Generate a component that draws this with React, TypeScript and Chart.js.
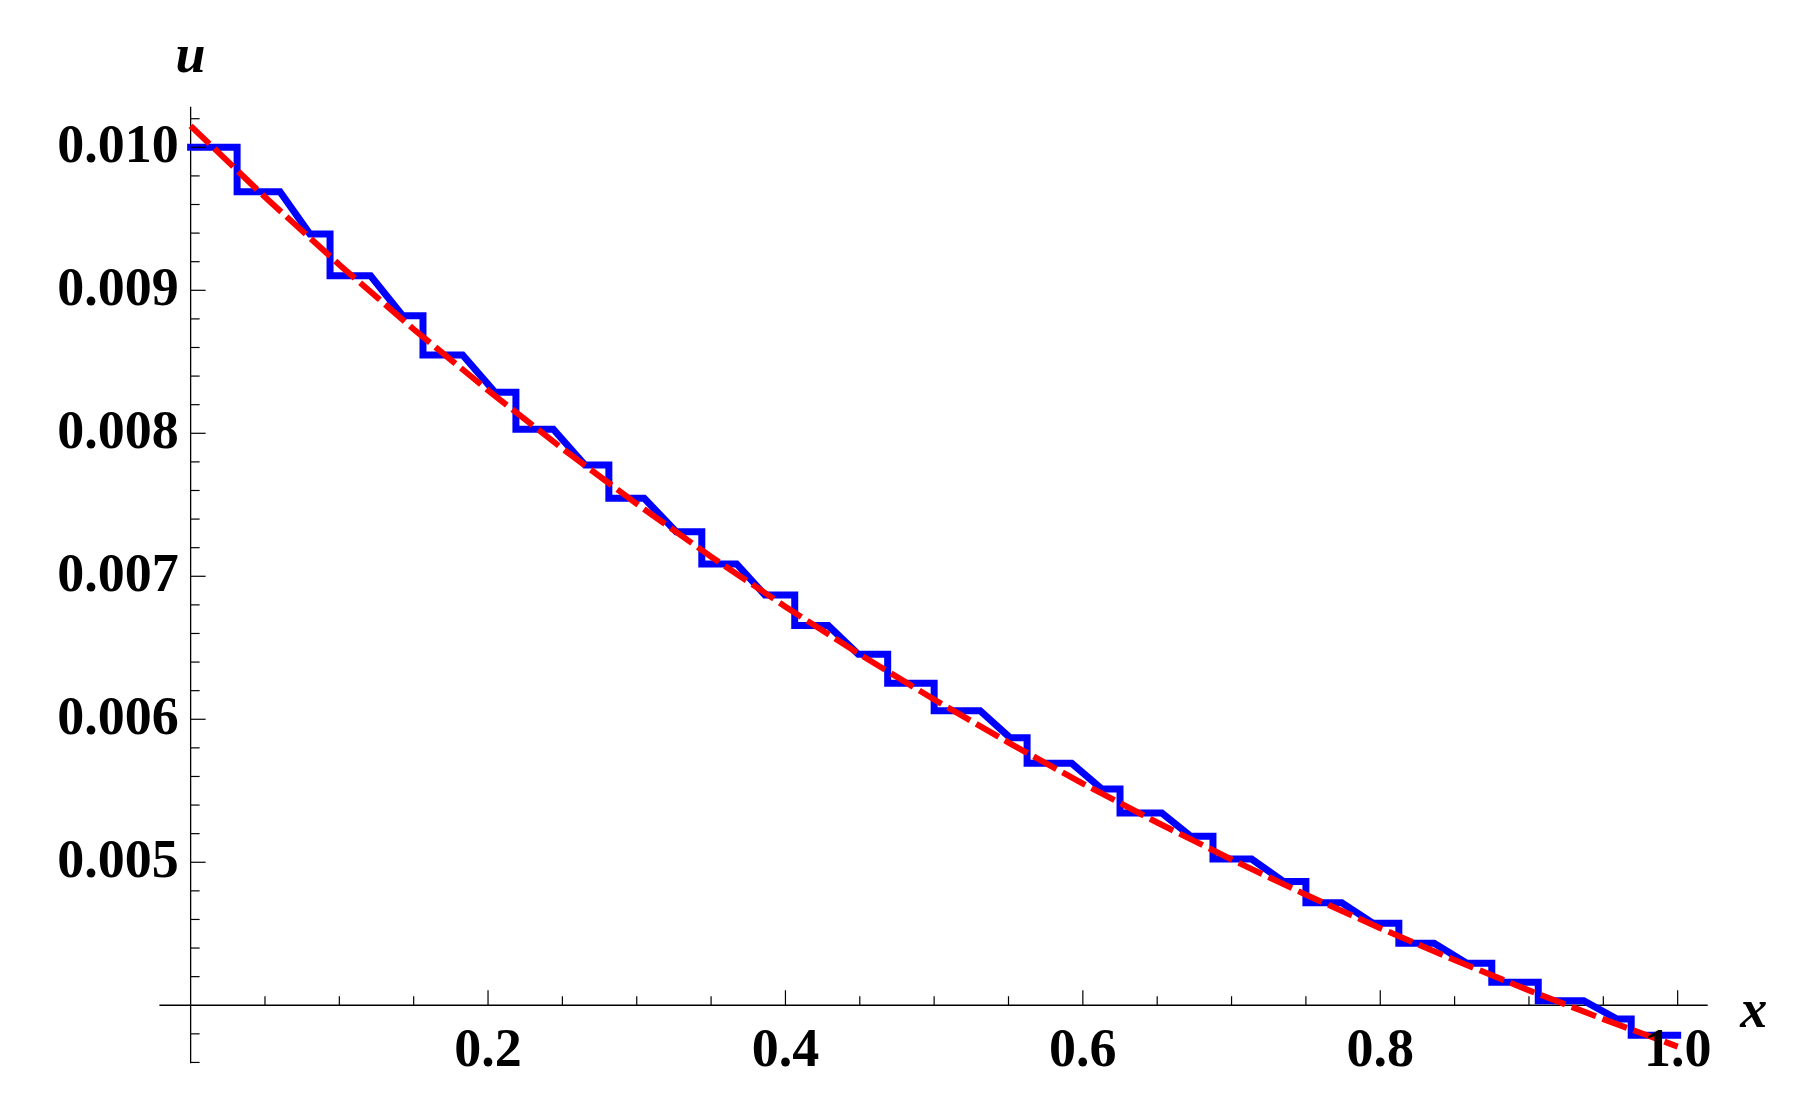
import React, { useEffect, useRef } from "react";
import { Chart, registerables } from "chart.js";

Chart.register(...registerables);

// Blue numerical (stepped) solution: breakpoints
const blueX = [
  0, 0.03125, 0.03125, 0.0601, 0.0802, 0.09375, 0.09375, 0.121, 0.1426, 0.15625,
  0.15625, 0.1829, 0.2047, 0.21875, 0.21875, 0.2439, 0.2652, 0.28125, 0.28125, 0.305,
  0.3265, 0.34375, 0.34375, 0.3672, 0.3862, 0.40625, 0.40625, 0.4288, 0.449, 0.46875,
  0.46875, 0.5, 0.5, 0.5309, 0.551, 0.5625, 0.5625, 0.5925, 0.6127, 0.625,
  0.625, 0.6531, 0.6725, 0.6875, 0.6875, 0.7135, 0.7348, 0.75, 0.75, 0.7741,
  0.7953, 0.8125, 0.8125, 0.8362, 0.8582, 0.875, 0.875, 0.90625, 0.90625, 0.9368,
  0.9592, 0.96875, 0.96875, 1.0,
];
const blueU = [
  0.01, 0.01, 0.00969, 0.00969, 0.009394, 0.009394, 0.009102, 0.009102, 0.008822, 0.008822,
  0.008548, 0.008548, 0.008287, 0.008287, 0.008028, 0.008028, 0.007778, 0.007778, 0.007545, 0.007545,
  0.007312, 0.007312, 0.007086, 0.007086, 0.006869, 0.006869, 0.006655, 0.006655, 0.006455, 0.006455,
  0.006252, 0.006252, 0.00606, 0.00606, 0.005871, 0.005871, 0.005692, 0.005692, 0.005513, 0.005513,
  0.005345, 0.005345, 0.005182, 0.005182, 0.005022, 0.005022, 0.004866, 0.004866, 0.004716, 0.004716,
  0.004573, 0.004573, 0.004434, 0.004434, 0.004294, 0.004294, 0.004161, 0.004161, 0.004032, 0.004032,
  0.003904, 0.003904, 0.00379, 0.00379,
];

// Red dashed reference curve
const redX = [
  0, 0.05, 0.1, 0.15, 0.2, 0.25, 0.3, 0.35, 0.4, 0.45, 0.5,
  0.55, 0.6, 0.65, 0.7, 0.75, 0.8, 0.85, 0.9, 0.95, 1.0,
];
const redU = [
  0.01015, 0.009652, 0.009179, 0.008728, 0.0083, 0.007893, 0.007506, 0.007137, 0.006787, 0.006454, 0.006138,
  0.005837, 0.00555, 0.005278, 0.005019, 0.004773, 0.004539, 0.004316, 0.004104, 0.003903, 0.003711,
];

// Axis ranges and ticks
const xRange = [-0.021, 1.0202];
const yRange = [0.003594, 0.010284];
const axisCross = [0, 0.004];

const xMajorTicks = [0.2, 0.4, 0.6, 0.8, 1.0];
const xMajorLabels = ["0.2", "0.4", "0.6", "0.8", "1.0"];
const xMinorTicks = [0.05, 0.1, 0.15, 0.25, 0.3, 0.35, 0.45, 0.5, 0.55, 0.65, 0.7, 0.75, 0.85, 0.9, 0.95];

const yMajorTicks = [0.005, 0.006, 0.007, 0.008, 0.009, 0.01];
const yMajorLabels = ["0.005", "0.006", "0.007", "0.008", "0.009", "0.010"];
const yMinorTicks = [
  0.0036, 0.0038, 0.0042, 0.0044, 0.0046, 0.0048, 0.0052, 0.0054, 0.0056, 0.0058,
  0.0062, 0.0064, 0.0066, 0.0068, 0.0072, 0.0074, 0.0076, 0.0078, 0.0082, 0.0084,
  0.0086, 0.0088, 0.0092, 0.0094, 0.0096, 0.0098, 0.0102,
];

const xAxisLabel = "x";
const yAxisLabel = "u";

const FONT = '"Liberation Serif", "Times New Roman", serif';

const axesPlugin = {
  id: "mmaAxes",
  beforeDatasetsDraw(chart: any) {
    const ctx: CanvasRenderingContext2D = chart.ctx;
    const xs = chart.scales.x;
    const ys = chart.scales.y;
    const area = chart.chartArea;
    const ox = xs.getPixelForValue(axisCross[0]);
    const oy = ys.getPixelForValue(axisCross[1]);
    ctx.save();
    ctx.strokeStyle = "#000";
    ctx.lineWidth = 1.3;
    ctx.beginPath();
    ctx.moveTo(area.left, oy);
    ctx.lineTo(area.right, oy);
    ctx.stroke();
    ctx.beginPath();
    ctx.moveTo(ox, area.top);
    ctx.lineTo(ox, area.bottom);
    ctx.stroke();
    ctx.restore();
  },
  afterDatasetsDraw(chart: any) {
    const ctx: CanvasRenderingContext2D = chart.ctx;
    const xs = chart.scales.x;
    const ys = chart.scales.y;
    const area = chart.chartArea;
    const ox = xs.getPixelForValue(axisCross[0]);
    const oy = ys.getPixelForValue(axisCross[1]);
    ctx.save();
    ctx.strokeStyle = "#000";
    ctx.lineWidth = 1.2;
    // x ticks (upward)
    xMajorTicks.forEach((v) => {
      const p = xs.getPixelForValue(v);
      ctx.beginPath();
      ctx.moveTo(p, oy);
      ctx.lineTo(p, oy - 15);
      ctx.stroke();
    });
    xMinorTicks.forEach((v) => {
      const p = xs.getPixelForValue(v);
      ctx.beginPath();
      ctx.moveTo(p, oy);
      ctx.lineTo(p, oy - 9);
      ctx.stroke();
    });
    // y ticks (rightward)
    yMajorTicks.forEach((v) => {
      const p = ys.getPixelForValue(v);
      ctx.beginPath();
      ctx.moveTo(ox, p);
      ctx.lineTo(ox + 15, p);
      ctx.stroke();
    });
    yMinorTicks.forEach((v) => {
      const p = ys.getPixelForValue(v);
      ctx.beginPath();
      ctx.moveTo(ox, p);
      ctx.lineTo(ox + 9, p);
      ctx.stroke();
    });

    // tick labels
    ctx.fillStyle = "#000";
    ctx.font = `bold 54px ${FONT}`;
    ctx.textAlign = "right";
    ctx.textBaseline = "middle";
    yMajorTicks.forEach((v, i) => {
      const p = ys.getPixelForValue(v);
      ctx.fillText(yMajorLabels[i], ox - 12, p + 1);
    });
    ctx.textAlign = "center";
    ctx.textBaseline = "alphabetic";
    xMajorTicks.forEach((v, i) => {
      const p = xs.getPixelForValue(v);
      ctx.fillText(xMajorLabels[i], p, oy + 61);
    });

    // axis labels
    ctx.font = `italic bold 54px ${FONT}`;
    ctx.textAlign = "center";
    ctx.fillText(yAxisLabel, ox, 71.5);
    ctx.fillText(xAxisLabel, area.right + 46, oy + 22);
    ctx.restore();
  },
};

export default function App() {
  const canvasRef = useRef<HTMLCanvasElement | null>(null);

  useEffect(() => {
    const canvas = canvasRef.current;
    if (!canvas) return;
    const chart = new Chart(canvas, {
      type: "scatter",
      data: {
        datasets: [
          {
            label: "exact",
            data: redX.map((x, i) => ({ x, y: redU[i] })),
            showLine: true,
            borderColor: "#ff0000",
            borderWidth: 6,
            borderDash: [26, 7],
            borderCapStyle: "butt",
            pointRadius: 0,
            tension: 0,
            order: 0,
          },
          {
            label: "numerical",
            data: blueX.map((x, i) => ({ x, y: blueU[i] })),
            showLine: true,
            borderColor: "#0000ff",
            borderWidth: 7,
            borderCapStyle: "square",
            borderJoinStyle: "miter",
            pointRadius: 0,
            tension: 0,
            order: 1,
          },
        ],
      },
      options: {
        responsive: false,
        animation: false,
        events: [],
        layout: {
          padding: { left: 159.4, right: 112.3, top: 106.7, bottom: 42.7 },
        },
        plugins: {
          legend: { display: false },
          tooltip: { enabled: false },
        },
        scales: {
          x: { type: "linear", min: xRange[0], max: xRange[1], display: false },
          y: { type: "linear", min: yRange[0], max: yRange[1], display: false },
        },
      },
      plugins: [axesPlugin],
    } as any);
    return () => chart.destroy();
  }, []);

  return (
    <div
      style={{
        position: "absolute",
        left: 0,
        top: 0,
        width: 1820,
        height: 1106,
        background: "#fff",
      }}
    >
      <canvas ref={canvasRef} width={1820} height={1106} style={{ display: "block" }} />
    </div>
  );
}
